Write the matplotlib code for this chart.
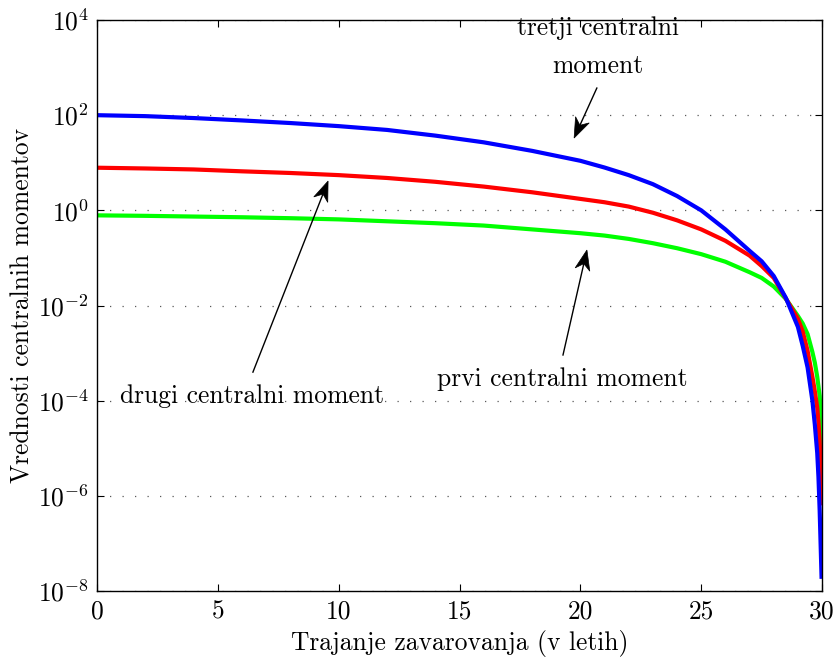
import matplotlib
matplotlib.use("Agg")
import numpy as np
import matplotlib.pyplot as plt
from matplotlib.patches import Polygon
from matplotlib.transforms import IdentityTransform

plt.rcParams["font.family"] = "serif"
plt.rcParams["font.serif"] = ["cmr10"]
plt.rcParams["mathtext.fontset"] = "cm"
plt.rcParams["axes.unicode_minus"] = False

# insurance duration (years)
years = [0, 2, 4, 6, 8, 10, 12, 14, 16, 18, 20, 21, 22, 23, 24, 25, 26, 27,
         27.5, 28, 28.5, 29, 29.2, 29.4, 29.6, 29.7, 29.8, 29.85, 29.9, 29.95, 29.98]

# central moments of the present value
prvi = [0.785, 0.767, 0.741, 0.716, 0.684, 0.646, 0.589, 0.537, 0.479, 0.398,
        0.331, 0.295, 0.251, 0.204, 0.160, 0.120, 0.0832, 0.0501,
        0.0380, 0.0251, 0.0138, 0.00603, 0.00417, 0.00251, 0.00105, 6.3e-4,
        3.16e-4, 2.0e-4, 1.26e-4, 5.0e-5, 1.0e-5]
drugi = [7.87, 7.59, 7.24, 6.61, 6.10, 5.50, 4.79, 3.98, 3.16, 2.40,
         1.74, 1.48, 1.20, 0.891, 0.617, 0.398, 0.229, 0.112,
         0.0676, 0.0380, 0.0141, 0.00525, 0.00282, 0.00112, 3.16e-4, 1.58e-4,
         7.08e-5, 3.55e-5, 1.41e-5, 3.16e-6, 6.3e-7]
tretji = [100, 95.5, 87.1, 77.6, 68.4, 58.9, 49.0, 37.2, 26.9, 17.8,
          11.0, 7.94, 5.50, 3.55, 2.00, 1.00, 0.398, 0.141,
          0.0851, 0.0417, 0.0145, 0.00355, 0.00141, 5.0e-4, 1.0e-4, 3.16e-5,
          7.94e-6, 2.51e-6, 5.0e-7, 6.3e-8, 1.8e-8]

x_ticks = [0, 5, 10, 15, 20, 25, 30]
y_exponents = [-8, -6, -4, -2, 0, 2, 4]

fs = 18.4

fig = plt.figure(figsize=(8.38, 6.61), dpi=100)
ax = fig.add_axes([0.1158, 0.1059, 0.8652, 0.8638])

ax.plot(years, prvi, color="#00ff00", lw=3, solid_capstyle="butt", solid_joinstyle="round")
ax.plot(years, drugi, color="#ff0000", lw=3, solid_capstyle="butt", solid_joinstyle="round")
ax.plot(years, tretji, color="#0000ff", lw=3, solid_capstyle="butt", solid_joinstyle="round")

ax.set_yscale("log")
ax.set_xlim(0, 30)
ax.set_ylim(1e-8, 1e4)
ax.set_xticks(x_ticks)
ax.set_xticklabels([str(t) for t in x_ticks], fontsize=fs)
ax.set_yticks([10.0 ** e for e in y_exponents])
ax.set_yticklabels([r"$10^{%d}$" % e for e in y_exponents], fontsize=fs)
ax.minorticks_off()
ax.tick_params(direction="in", top=True, right=True, length=5, width=0.8, pad=6)
for s in ax.spines.values():
    s.set_linewidth(1.0)

ax.yaxis.grid(True, linestyle=(0, (1, 9)), color="0.35", linewidth=0.9)
ax.set_axisbelow(True)

ax.set_xlabel("Trajanje zavarovanja (v letih)", fontsize=fs, labelpad=5)
ax.set_ylabel("Vrednosti centralnih momentov", fontsize=fs, labelpad=2)


def notched_arrow(start, tip, head_len=20.0, half_w=7.5, notch=6.0):
    """Thin arrow with a swept-back filled head, sized in pixels."""
    s = ax.transData.transform(start)
    t = ax.transData.transform(tip)
    u = (t - s) / np.hypot(*(t - s))
    n = np.array([-u[1], u[0]])
    base = t - head_len * u
    back = t - (head_len - notch) * u
    head = [t, base + half_w * n, back, base - half_w * n]
    ident = IdentityTransform()
    ax.add_line(plt.Line2D([s[0], back[0]], [s[1], back[1]], color="black",
                           lw=1.0, transform=ident, clip_on=False))
    ax.add_patch(Polygon(head, closed=True, facecolor="black", edgecolor="black",
                         lw=0.5, transform=ident, clip_on=False))


ax.text(20.73, 10 ** 3.84, "tretji centralni", ha="center", va="center", fontsize=fs)
ax.text(20.73, 10 ** 3.04, "moment", ha="center", va="center", fontsize=fs)
notched_arrow((20.68, 10 ** 2.57), (19.74, 10 ** 1.52))

ax.text(6.41, 10 ** -3.90, "drugi centralni moment", ha="center", va="center", fontsize=fs)
notched_arrow((6.45, 10 ** -3.40), (9.56, 10 ** 0.616))

ax.text(19.24, 10 ** -3.545, "prvi centralni moment", ha="center", va="center", fontsize=fs)
notched_arrow((19.28, 10 ** -3.04), (20.27, 10 ** -0.834))

fig.savefig("out.png", dpi=100)
